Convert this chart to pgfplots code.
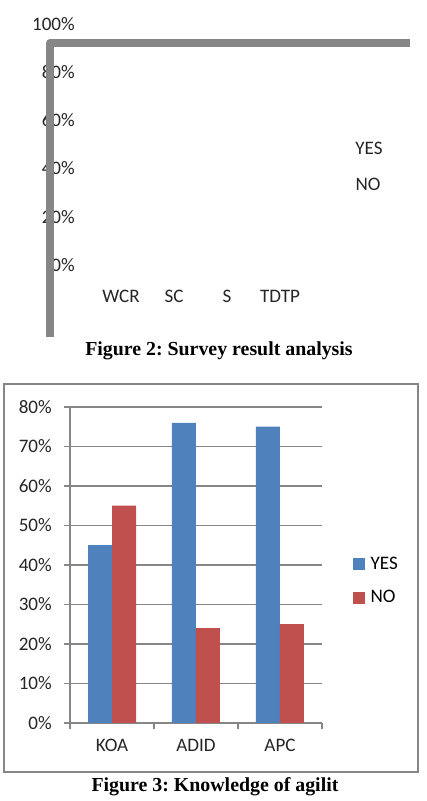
\documentclass[border=0pt]{standalone}
\usepackage{fontspec}
\setmainfont{Carlito}
\newfontfamily\capfont{Liberation Serif}
\usepackage{pgfplots}
\pgfplotsset{compat=1.18}
\definecolor{framegray}{HTML}{868686}
\definecolor{yesblue}{HTML}{4F81BD}
\definecolor{nored}{HTML}{C0504D}
\newcommand{\chartfont}{\fontsize{14.3}{17}\selectfont}
\newcommand{\capfontsize}{\capfont\bfseries\fontsize{14.9}{17}\selectfont}
\frenchspacing

\begin{document}
\begin{tikzpicture}[x=0.75pt,y=0.75pt]
\useasboundingbox (0,0) rectangle (427,801);
\fill[white] (0,0) rectangle (427,801);

% ---------- Figure 2: survey result analysis ----------
\begin{axis}[
  at={(56.25pt,387pt)}, anchor=south west,
  scale only axis, width=251.25pt, height=195.75pt,
  xmin=0.132, xmax=6.453, ymin=-8.33, ymax=100,
  clip=false,
  axis line style={draw=none},
  major tick length=0pt,
  tick style={draw=none},
  ytick={0,20,40,60,80,100},
  yticklabels={0\%,20\%,40\%,60\%,80\%,100\%},
  xtick={1,2,3,4},
  xticklabels={WCR,SC,S,TDTP},
  tick label style={font=\chartfont, text=black!85},
  /pgf/number format/assume math mode=true,
  yticklabel style={anchor=east, inner sep=0pt},
  xticklabel style={anchor=base, inner sep=0pt, yshift=-13.5pt},
]
\end{axis}
\draw[framegray, line width=6pt, line join=round] (50,464) -- (50,758) -- (410,758);
\node[font=\chartfont, text=black!85] at (369,653) {YES};
\node[font=\chartfont, text=black!85] at (368,617) {NO};
\node[font=\capfontsize, anchor=base] at (219,445) {Figure 2: Survey result analysis};

% ---------- Figure 3: knowledge of agility ----------
\draw[framegray, line width=1.1pt] (4,29) rectangle (418,417);
\begin{axis}[
  at={(52.5pt,58.5pt)}, anchor=south west,
  scale only axis, width=189pt, height=237pt,
  xmin=0.5, xmax=3.5, ymin=0, ymax=80,
  axis x line*=bottom, axis y line*=left,
  axis line style={framegray, line width=0.8pt},
  ybar=0pt, bar width=18pt,
  ytick={0,10,...,80},
  yticklabels={0\%,10\%,20\%,30\%,40\%,50\%,60\%,70\%,80\%},
  xtick={0.5,1.5,2.5,3.5},
  xticklabels={},
  extra x ticks={1,2,3},
  extra x tick labels={KOA,ADID,APC},
  extra x tick style={major tick length=0pt, grid=none},
  tick align=outside,
  major tick length=4.5pt,
  tick style={framegray, line width=0.8pt},
  ymajorgrids,
  grid style={framegray, line width=0.8pt},
  tick label style={font=\chartfont, text=black!85},
  /pgf/number format/assume math mode=true,
  yticklabel style={anchor=east, inner sep=0pt, xshift=-9pt},
  xticklabel style={anchor=base, inner sep=0pt, yshift=-21.5pt},
  legend image code/.code={\fill[#1] (0pt,-4.5pt) rectangle (9pt,4.5pt);},
  legend style={at={(axis description cs:1.123,0.449)}, anchor=west,
    draw=none, fill=none, inner sep=0pt, font=\chartfont,
    row sep=10.25pt,
    /tikz/every odd column/.append style={column sep=2pt}},
  legend cell align=left,
]
\addplot[fill=yesblue, draw=none] coordinates {(1,45) (2,76) (3,75)};
\addplot[fill=nored, draw=none] coordinates {(1,55) (2,24) (3,25)};
\legend{YES,NO}
\end{axis}
\node[font=\capfontsize, anchor=base] at (215,9) {Figure 3: Knowledge of agilit};
\end{tikzpicture}
\end{document}
